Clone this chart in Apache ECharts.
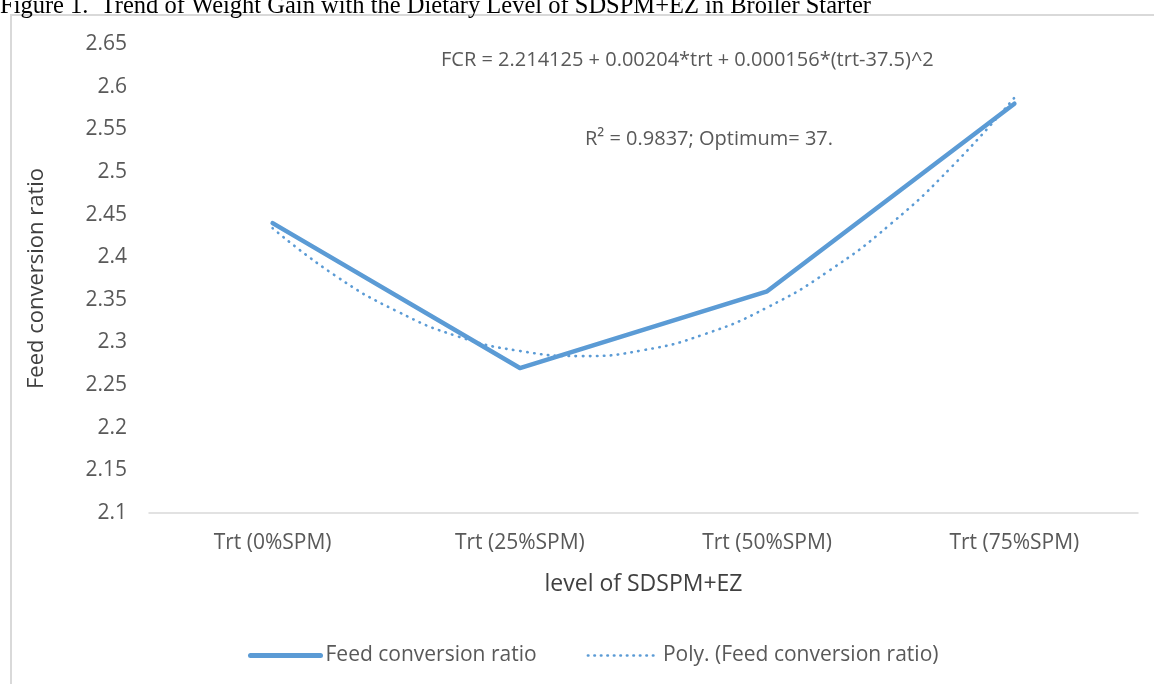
<!DOCTYPE html>
<html>
<head>
<meta charset="utf-8">
<script src="https://cdn.jsdelivr.net/npm/echarts@6/dist/echarts.min.js"></script>
<style>
html,body{margin:0;padding:0;background:#fff;}
#chart{width:1154px;height:684px;}
</style>
</head>
<body>
<div id="chart"></div>
<script>
const titleText = 'Figure 1.  Trend of Weight Gain with the Dietary Level of SDSPM+EZ in Broiler Starter';
const categories = ['Trt (0%SPM)', 'Trt (25%SPM)', 'Trt (50%SPM)', 'Trt (75%SPM)'];
const fcrValues = [2.44, 2.27, 2.36, 2.58];
// dotted polynomial trendline at fractional category positions (1 = first category)
const trendPos = [1, 1.25, 1.5, 1.75, 2, 2.25, 2.5, 2.75, 3, 3.25, 3.5, 3.75, 4];
const trendValues = [2.434, 2.379, 2.337, 2.307, 2.290, 2.284, 2.291, 2.310, 2.341, 2.384, 2.439, 2.507, 2.587];
const yMin = 2.1, yMax = 2.65, yStep = 0.05;
const equationText = 'FCR = 2.214125 + 0.00204*trt + 0.000156*(trt-37.5)^2';
const r2Text = 'R² = 0.9837; Optimum= 37.';
const yName = 'Feed conversion ratio';
const xName = 'level of SDSPM+EZ';
const seriesNames = ['Feed conversion ratio', 'Poly. (Feed conversion ratio)'];

const FONT = '"Open Sans", sans-serif';
const blue = '#5B9BD5';
const dotted = [0.5, 6.5];
const chart = echarts.init(document.getElementById('chart'));
chart.setOption({
  animation: false,
  backgroundColor: '#fff',
  grid: {left: 149, right: 16, top: 44, bottom: 171},
  xAxis: [{
    type: 'category', data: categories, boundaryGap: true,
    axisLine: {lineStyle: {color: '#d9d9d9', width: 1.5}},
    axisTick: {show: false},
    axisLabel: {color: '#595959', fontFamily: FONT, fontSize: 21, margin: 20},
    name: xName, nameLocation: 'middle', nameGap: 60,
    nameTextStyle: {color: '#404040', fontFamily: FONT, fontSize: 23}
  }, {
    type: 'value', min: 0.5, max: 4.5, show: false
  }],
  yAxis: {
    type: 'value', min: yMin, max: yMax, interval: yStep,
    axisLine: {show: false}, axisTick: {show: false},
    splitLine: {show: false},
    axisLabel: {color: '#595959', fontFamily: FONT, fontSize: 21, margin: 22,
      formatter: v => String(+v.toFixed(2))},
    name: yName, nameLocation: 'middle', nameGap: 101, nameRotate: 90,
    nameTextStyle: {color: '#404040', fontFamily: FONT, fontSize: 22}
  },
  legend: {
    left: 243, top: 640, itemWidth: 70, itemHeight: 14, itemGap: 50,
    textStyle: {color: '#595959', fontFamily: FONT, fontSize: 21},
    itemStyle: {opacity: 0},
    data: [
      {name: seriesNames[0], lineStyle: {color: blue, width: 5, cap: 'round'}},
      {name: seriesNames[1], lineStyle: {color: blue, width: 2.6, type: [0.5, 6], cap: 'round'}}
    ]
  },
  series: [{
    name: seriesNames[0], type: 'line', data: fcrValues,
    showSymbol: false, symbol: 'none',
    lineStyle: {color: blue, width: 4.5, cap: 'round', join: 'round'},
    itemStyle: {color: blue}, z: 3
  }, {
    name: seriesNames[1], type: 'line', xAxisIndex: 1,
    data: trendPos.map((p, i) => [p, trendValues[i]]),
    smooth: true, showSymbol: false, symbol: 'none',
    lineStyle: {color: blue, width: 2.6, type: dotted, cap: 'round'},
    itemStyle: {color: blue}, z: 2
  }],
  graphic: [{
    type: 'rect', z: -1, silent: true,
    shape: {x: 11, y: 15, width: 1300, height: 800},
    style: {fill: 'none', stroke: '#d9d9d9', lineWidth: 2}
  }, {
    type: 'text', left: 0, top: -6,
    style: {text: titleText, font: '24.5px "Liberation Serif", serif', fill: '#000'}
  }, {
    type: 'text', left: 441, top: 50,
    style: {text: equationText, font: '20px ' + FONT, fill: '#595959'}
  }, {
    type: 'text', left: 585, top: 129,
    style: {text: r2Text, font: '20px ' + FONT, fill: '#595959'}
  }]
});
</script>
</body>
</html>
